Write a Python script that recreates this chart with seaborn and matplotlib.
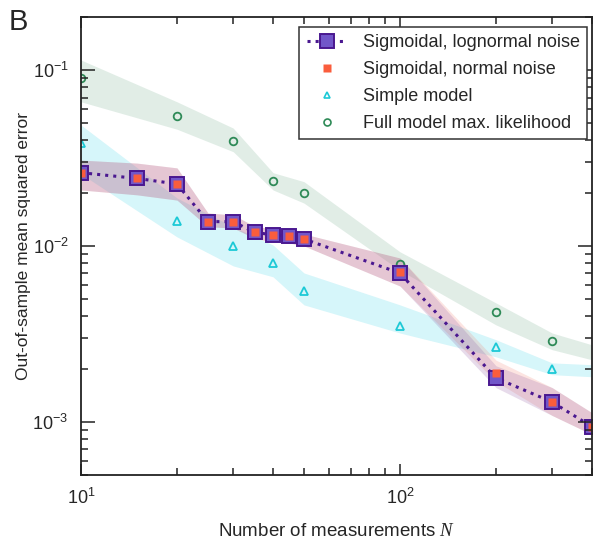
import numpy as np
import matplotlib
matplotlib.use('Agg')
import matplotlib.pyplot as plt
import seaborn as sns
from matplotlib.lines import Line2D
from matplotlib.ticker import LogLocator, NullFormatter

# data
n_sig = [10, 15, 20, 25, 30, 35, 40, 45, 50, 100, 200, 300, 400]
mse_lognormal = [0.0262, 0.0243, 0.0226, 0.0138, 0.0138, 0.0120, 0.0116, 0.01145, 0.0110, 0.00703, 0.00178, 0.00130, 0.00094]
mse_normal = [0.0262, 0.0243, 0.0226, 0.0138, 0.0138, 0.0120, 0.0116, 0.01145, 0.0110, 0.00710, 0.00191, 0.00130, 0.00094]
sig_hi = [0.0309, 0.0297, 0.0279, 0.01546, 0.01507, 0.0130, 0.01254, 0.01214, 0.01174, 0.00857, 0.00209, 0.00157, 0.00113]
sig_lo = [0.0209, 0.0196, 0.0183, 0.0129, 0.0127, 0.0111, 0.01057, 0.01044, 0.01004, 0.00594, 0.00157, 0.00109, 0.00085]
sig_hi_normal = [0.0309, 0.0297, 0.0279, 0.01546, 0.01507, 0.0130, 0.01254, 0.01214, 0.01174, 0.00857, 0.00225, 0.00157, 0.00113]
sig_lo_normal = [0.0209, 0.0196, 0.0183, 0.0129, 0.0127, 0.0111, 0.01057, 0.01044, 0.01004, 0.00594, 0.00170, 0.00109, 0.00085]

n_other = [10, 20, 30, 40, 50, 100, 200, 300]
mse_simple = [0.0385, 0.01396, 0.0100, 0.0080, 0.0056, 0.00352, 0.00267, 0.0020]
mse_full = [0.090, 0.055, 0.0398, 0.0235, 0.0202, 0.0079, 0.0042, 0.0029]

n_band = [10, 20, 30, 40, 50, 100, 200, 300, 400]
simple_hi = [0.0489, 0.0188, 0.0129, 0.01016, 0.00705, 0.00464, 0.00294, 0.00217, 0.00212]
simple_lo = [0.0258, 0.0113, 0.00773, 0.0067, 0.00464, 0.00321, 0.00235, 0.00186, 0.00181]
full_hi = [0.1146, 0.0663, 0.047, 0.0262, 0.0233, 0.0093, 0.00476, 0.00321, 0.00275]
full_lo = [0.0663, 0.0463, 0.0345, 0.0209, 0.0176, 0.0073, 0.00357, 0.00258, 0.00226]

sns.set_style('ticks')
plt.rcParams['font.family'] = ['Liberation Sans', 'DejaVu Sans']
plt.rcParams['mathtext.fontset'] = 'custom'
plt.rcParams['mathtext.rm'] = 'Liberation Sans'
plt.rcParams['mathtext.it'] = 'Liberation Serif:italic'
plt.rcParams['axes.axisbelow'] = False
plt.rcParams['xtick.direction'] = 'in'
plt.rcParams['ytick.direction'] = 'in'
plt.rcParams['xtick.top'] = True
plt.rcParams['ytick.right'] = True
plt.rcParams['xtick.minor.visible'] = True
plt.rcParams['ytick.minor.visible'] = True

purple = '#7156c9'
purple_dark = '#4a1890'
red = '#fa5d3c'
cyan = '#1cc9d6'
green = '#2e8a57'

fig = plt.figure(figsize=(5.93, 5.40), dpi=100)
ax = fig.add_axes([0.1366, 0.1204, 0.8617, 0.8472])

# shaded bands
ax.fill_between(n_band, full_lo, full_hi, color='#6aa884', alpha=0.2, lw=0)
ax.fill_between(n_band, simple_lo, simple_hi, color='#33d2e6', alpha=0.2, lw=0)
ax.fill_between(n_sig, sig_lo_normal, sig_hi_normal, color='#f07a6a', alpha=0.2, lw=0)
ax.fill_between(n_sig, sig_lo, sig_hi, color='#8a4f9c', alpha=0.2, lw=0)

sns.lineplot(x=n_other, y=mse_full, ax=ax, linestyle='', marker='o', markersize=5.5,
             markerfacecolor='none', markeredgecolor=green, markeredgewidth=1.3, color=green)
sns.lineplot(x=n_other, y=mse_simple, ax=ax, linestyle='', marker='^', markersize=5.5,
             markerfacecolor='none', markeredgecolor=cyan, markeredgewidth=1.3, color=cyan)
sns.lineplot(x=n_sig, y=mse_lognormal, ax=ax, linestyle=':', linewidth=2.2, color=purple_dark,
             marker='s', markersize=9.5, markerfacecolor=purple, markeredgecolor=purple_dark,
             markeredgewidth=1.4)
sns.lineplot(x=n_sig, y=mse_normal, ax=ax, linestyle='', marker='s', markersize=5.2,
             markerfacecolor=red, markeredgecolor='none', color=red)

ax.set_xscale('log')
ax.set_yscale('log')
ax.set_xlim(10, 400)
ax.set_ylim(5e-4, 0.2)

ax.xaxis.set_major_locator(LogLocator(base=10))
ax.xaxis.set_minor_locator(LogLocator(base=10, subs=np.arange(2, 10)))
ax.yaxis.set_minor_locator(LogLocator(base=10, subs=np.arange(2, 10)))
ax.xaxis.set_minor_formatter(NullFormatter())
ax.yaxis.set_minor_formatter(NullFormatter())

ax.tick_params(which='both', direction='in', top=True, right=True, bottom=True, left=True,
               labelsize=13, width=1.1, color='#222222')
ax.tick_params(axis='x', which='major', length=8, pad=9)
ax.tick_params(axis='y', which='major', length=10, pad=9)
ax.tick_params(which='minor', length=5)
for sp in ax.spines.values():
    sp.set_linewidth(1.3)
    sp.set_color('#222222')

ax.set_xlabel('Number of measurements $\\mathit{N}$', fontsize=13.5, labelpad=11)
ax.set_ylabel('Out-of-sample mean squared error', fontsize=12.5, labelpad=1)

handles = [
    Line2D([], [], linestyle=':', linewidth=2.2, color=purple_dark, marker='s', markersize=9.5,
           markerfacecolor=purple, markeredgecolor=purple_dark, markeredgewidth=1.4),
    Line2D([], [], linestyle='', marker='s', markersize=5.2, markerfacecolor=red, markeredgecolor='none'),
    Line2D([], [], linestyle='', marker='^', markersize=5, markerfacecolor='none',
           markeredgecolor=cyan, markeredgewidth=1.2),
    Line2D([], [], linestyle='', marker='o', markersize=5, markerfacecolor='none',
           markeredgecolor=green, markeredgewidth=1.2),
]
labels = ['Sigmoidal, lognormal noise', 'Sigmoidal, normal noise', 'Simple model', 'Full model max. likelihood']
leg = ax.legend(handles, labels, loc='upper right', bbox_to_anchor=(0.99, 0.98), fontsize=13,
                frameon=True, fancybox=False, framealpha=1, edgecolor='#333333',
                handlelength=2.2, handletextpad=0.9, labelspacing=0.56, borderpad=0.4,
                borderaxespad=0)
leg.get_frame().set_linewidth(1.1)

fig.text(0.015, 0.945, 'B', fontsize=21)

fig.savefig('out.png', dpi=100)
